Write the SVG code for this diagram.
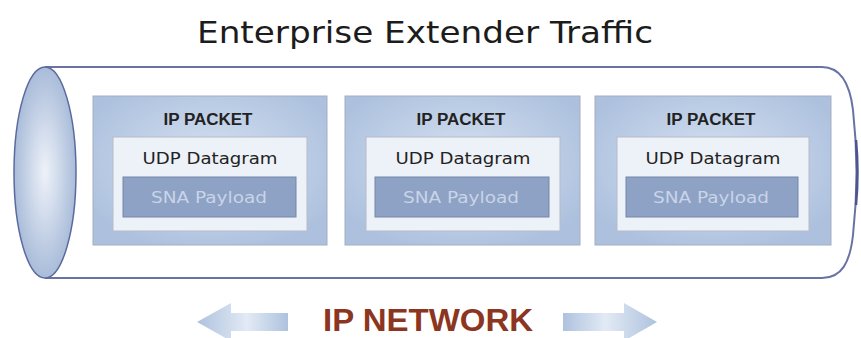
<svg xmlns="http://www.w3.org/2000/svg" width="861" height="338" viewBox="0 0 861 338">
  <defs>
    <radialGradient id="capFill" cx="0.5" cy="0.5" r="0.5">
      <stop offset="0" stop-color="#eef2f9"/>
      <stop offset="1" stop-color="#a9bcd9"/>
    </radialGradient>
    <radialGradient id="packetFill" cx="0.5" cy="0.45" r="0.6">
      <stop offset="0" stop-color="#d6e1f1"/>
      <stop offset="1" stop-color="#adc1de"/>
    </radialGradient>
    <linearGradient id="arrowFill" x1="0" y1="0" x2="1" y2="0">
      <stop offset="0" stop-color="#aec2de"/>
      <stop offset="0.55" stop-color="#e2eaf5"/>
      <stop offset="1" stop-color="#aec2de"/>
    </linearGradient>
    <linearGradient id="arrowFillR" x1="0" y1="0" x2="1" y2="0">
      <stop offset="0" stop-color="#aec2de"/>
      <stop offset="0.45" stop-color="#e2eaf5"/>
      <stop offset="1" stop-color="#aec2de"/>
    </linearGradient>
  </defs>
  <style>
    .title { font-family: "DejaVu Sans", "Liberation Sans", sans-serif; font-size: 31px; fill: #1c1c1c; }
    .pkt { fill: url(#packetFill); stroke: #a3aec2; stroke-width: 1; }
    .udp { fill: #edf1f8; stroke: #b6bbc8; stroke-width: 1; }
    .pay { fill: #8da2c5; stroke: #7587a8; stroke-width: 1; }
    .lbl-ip { font-family: "Liberation Sans", Arial, sans-serif; font-weight: bold; font-size: 16px; fill: #222; text-anchor: middle; }
    .lbl-udp { font-family: "DejaVu Sans", "Liberation Sans", sans-serif; font-size: 16.5px; fill: #222; text-anchor: middle; }
    .lbl-sna { font-family: "DejaVu Sans", "Liberation Sans", sans-serif; font-size: 16px; fill: #c9d4e8; text-anchor: middle; }
    .net { font-family: "Liberation Sans", Arial, sans-serif; font-weight: bold; font-size: 31px; fill: #8c3520; }
  </style>

  <rect width="861" height="338" fill="#ffffff"/>

  <text class="title" x="197" y="43" textLength="456" lengthAdjust="spacingAndGlyphs">Enterprise Extender Traffic</text>

  <!-- pipe body -->
  <g id="pipe">
    <path d="M45 67 H822 C842 67 850 85 853 110 Q860 172 853 235 C850 262 842 278 822 278 H45" fill="#ffffff" stroke="#6a72a4" stroke-width="2"/>
    <path d="M856 140 Q859 172 856 205" fill="none" stroke="#4c5590" stroke-width="2.5"/>
    <ellipse cx="45" cy="172.5" rx="31" ry="105.5" fill="url(#capFill)" stroke="#5b6a9e" stroke-width="1.5"/>
  </g>

  <g id="packet1">
    <rect class="pkt" x="93" y="96" width="234" height="149"/>
    <text class="lbl-ip" x="208" y="125" textLength="89" lengthAdjust="spacingAndGlyphs">IP PACKET</text>
    <rect class="udp" x="113" y="137" width="194" height="94"/>
    <text class="lbl-udp" x="210" y="164" textLength="135" lengthAdjust="spacingAndGlyphs">UDP Datagram</text>
    <rect class="pay" x="123" y="177" width="173" height="40"/>
    <text class="lbl-sna" x="209" y="203" textLength="116" lengthAdjust="spacingAndGlyphs">SNA Payload</text>
  </g>

  <g id="packet2">
    <rect class="pkt" x="345" y="96" width="235" height="149"/>
    <text class="lbl-ip" x="461" y="125" textLength="89" lengthAdjust="spacingAndGlyphs">IP PACKET</text>
    <rect class="udp" x="366" y="137" width="194" height="94"/>
    <text class="lbl-udp" x="463" y="164" textLength="135" lengthAdjust="spacingAndGlyphs">UDP Datagram</text>
    <rect class="pay" x="375" y="177" width="174" height="40"/>
    <text class="lbl-sna" x="461" y="203" textLength="116" lengthAdjust="spacingAndGlyphs">SNA Payload</text>
  </g>

  <g id="packet3">
    <rect class="pkt" x="595" y="96" width="236" height="149"/>
    <text class="lbl-ip" x="711" y="125" textLength="89" lengthAdjust="spacingAndGlyphs">IP PACKET</text>
    <rect class="udp" x="617" y="137" width="192" height="94"/>
    <text class="lbl-udp" x="713" y="164" textLength="135" lengthAdjust="spacingAndGlyphs">UDP Datagram</text>
    <rect class="pay" x="626" y="177" width="172" height="40"/>
    <text class="lbl-sna" x="711" y="203" textLength="116" lengthAdjust="spacingAndGlyphs">SNA Payload</text>
  </g>

  <!-- direction arrows either side of the network label -->
  <g id="connectors">
    <path d="M197 322 L231 303 V313 H288 V331 H231 V341 Z" fill="url(#arrowFill)"/>
    <path d="M657 322 L624 303 V313 H563 V331 H624 V341 Z" fill="url(#arrowFillR)"/>
  </g>

  <text class="net" x="323" y="331" textLength="210" lengthAdjust="spacingAndGlyphs">IP NETWORK</text>
</svg>
